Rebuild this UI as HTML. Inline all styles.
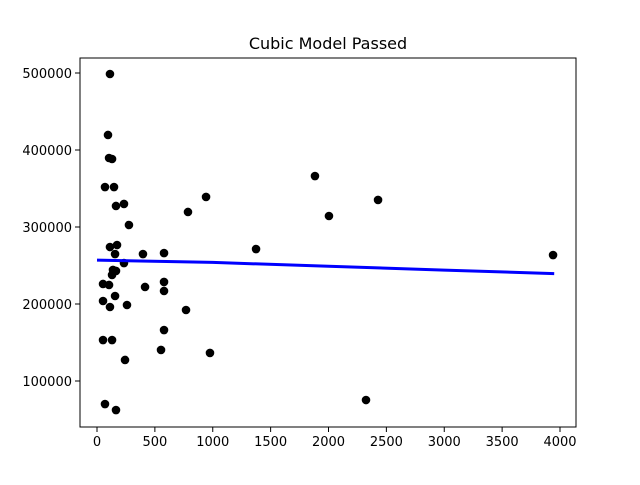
<!DOCTYPE html>
<html><head><meta charset="utf-8"><style>
html,body{margin:0;padding:0;background:#fff;}
svg text{font-family:"DejaVu Sans","Liberation Sans",sans-serif;}
</style></head><body>
<svg id="chart" width="640" height="480" xmlns="http://www.w3.org/2000/svg">
<rect x="0" y="0" width="640" height="480" fill="#fff"/>
<text x="328" y="49" text-anchor="middle" font-size="16" fill="#000">Cubic Model Passed</text>
<g id="marks"></g>
<g id="axes"></g>
<rect x="80" y="58" width="496" height="369" fill="none" stroke="#000" stroke-width="1"/>
</svg>
<script>
const xs = [112,95,104,130,69,147,164,233,276,786,112,173,156,397,579,233,138,164,130,52,104,415,579,579,156,52,112,259,769,579,52,130,553,242,69,164,1883,942,2428,2004,1374,3940,976,2324];
const ys = [498700,419500,389600,388300,351900,351900,327300,329900,302600,319500,274000,276600,264900,264900,266200,253200,244200,242900,237700,226000,224700,222100,228600,216900,210400,203900,196100,198700,192200,166200,153200,153200,140300,127300,70100,62300,366200,339000,335100,314300,271400,263600,136400,75300];
const fitX = [0,1000,2000,3000,3950];
const fitY = [257000,254000,249000,244000,239500];
const xTicks = [0,500,1000,1500,2000,2500,3000,3500,4000];
const yTicks = [100000,200000,300000,400000,500000];
const NS="http://www.w3.org/2000/svg";
function sx(v){return 97+v*0.11575;}
function sy(v){return 458-v*0.00077;}
const marks=document.getElementById('marks');
const axes=document.getElementById('axes');
xs.forEach((x,i)=>{
  const c=document.createElementNS(NS,'circle');
  c.setAttribute('cx',sx(x));c.setAttribute('cy',sy(ys[i]));c.setAttribute('r',4.3);c.setAttribute('fill','#000');
  
  
  marks.appendChild(c);
});
const pl=document.createElementNS(NS,'polyline');
pl.setAttribute('points',fitX.map((x,i)=>sx(x)+','+sy(fitY[i])).join(' '));
pl.setAttribute('fill','none');pl.setAttribute('stroke','#0000ff');pl.setAttribute('stroke-width','3');


marks.appendChild(pl);
xTicks.forEach(t=>{
  const l=document.createElementNS(NS,'line');
  l.setAttribute('x1',sx(t));l.setAttribute('x2',sx(t));l.setAttribute('y1',427);l.setAttribute('y2',432);l.setAttribute('stroke','#000');
  
  
  axes.appendChild(l);
  const tx=document.createElementNS(NS,'text');
  tx.setAttribute('x',sx(t));tx.setAttribute('y',446);tx.setAttribute('text-anchor','middle');tx.setAttribute('font-size','13');
  tx.textContent=t;
  
  
  axes.appendChild(tx);
});
yTicks.forEach(t=>{
  const l=document.createElementNS(NS,'line');
  l.setAttribute('x1',75);l.setAttribute('x2',80);l.setAttribute('y1',sy(t));l.setAttribute('y2',sy(t));l.setAttribute('stroke','#000');
  
  
  axes.appendChild(l);
  const tx=document.createElementNS(NS,'text');
  tx.setAttribute('x',72);tx.setAttribute('y',sy(t)+5);tx.setAttribute('text-anchor','end');tx.setAttribute('font-size','13');
  tx.textContent=t;
  
  
  axes.appendChild(tx);
});
</script>
</body></html>
